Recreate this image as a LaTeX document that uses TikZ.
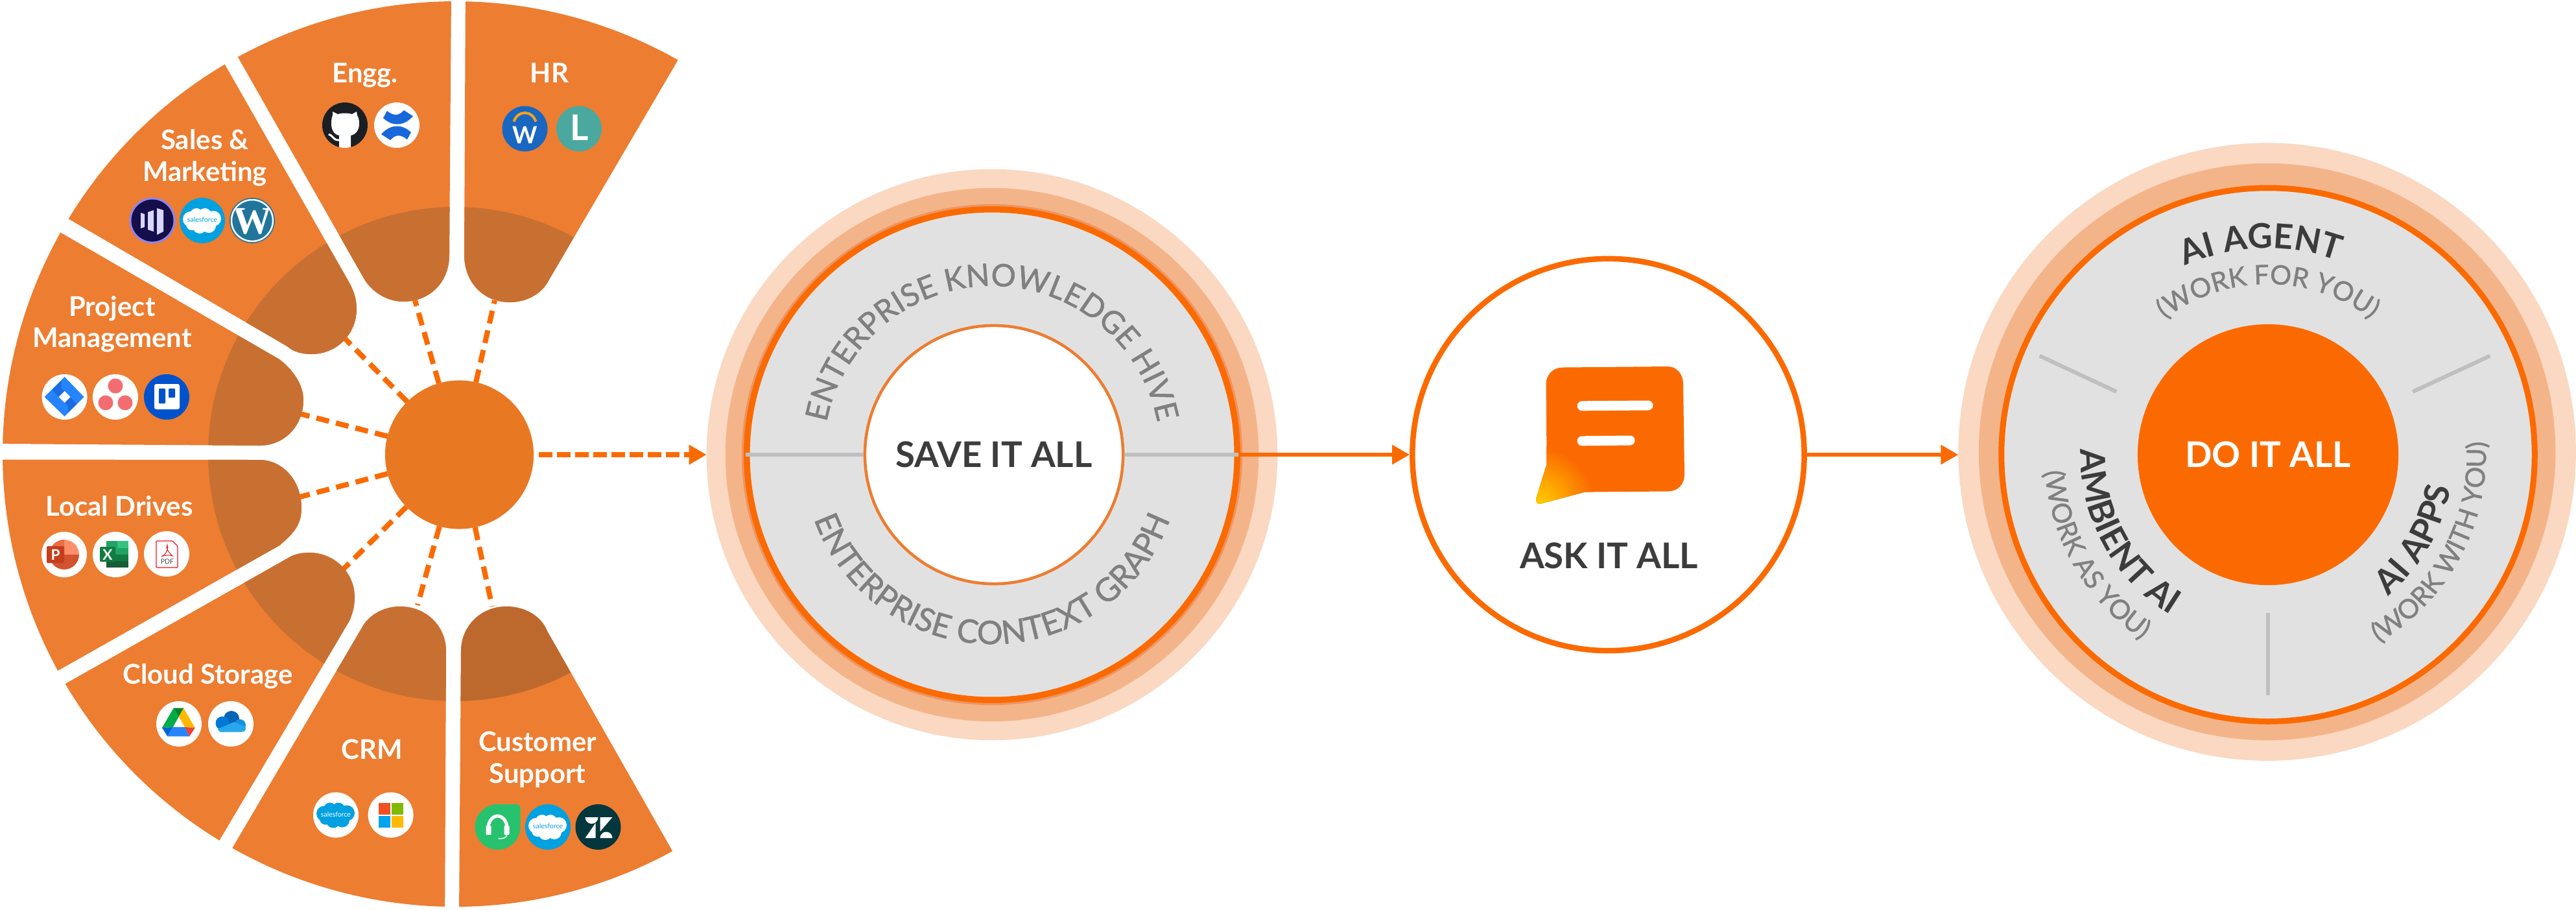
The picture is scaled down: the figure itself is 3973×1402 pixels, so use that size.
\documentclass[tikz,border=0pt]{standalone}
\usepackage{fontspec}
\setmainfont{Lato}
\newfontfamily\wpserif{Liberation Serif}
\newfontfamily\latofat[FakeBold=1.2]{Lato}
\usetikzlibrary{arrows.meta,decorations.text,calc}
\definecolor{wedgecol}{HTML}{ED7D31}
\definecolor{darka}{HTML}{C87032}
\definecolor{darkb}{HTML}{BD692D}
\definecolor{hubcol}{HTML}{E97823}
\definecolor{flow}{HTML}{FB6A00}
\definecolor{tailyellow}{HTML}{FFD200}
\definecolor{haloA}{HTML}{FAD8C1}
\definecolor{haloB}{HTML}{F4B48A}
\definecolor{haloC}{HTML}{ED9563}
\definecolor{panel}{HTML}{E1E1E1}
\definecolor{divider}{HTML}{BFBFBF}
\definecolor{ink}{HTML}{3C3C3C}
\definecolor{soft}{HTML}{808080}
\definecolor{sfblue}{HTML}{00A1E0}
\definecolor{jirablue}{HTML}{2684FF}
\definecolor{jiradark}{HTML}{1C6BE0}
\definecolor{trello}{HTML}{0052CC}
\definecolor{confl}{HTML}{1868DB}
\definecolor{wdblue}{HTML}{1967C0}
\definecolor{wdorange}{HTML}{F9A11B}
\definecolor{lattice}{HTML}{4AA89F}
\definecolor{ghdark}{HTML}{1B1F23}
\definecolor{mknavy}{HTML}{140F4B}
\definecolor{mkring}{HTML}{8F84F0}
\definecolor{mkbar}{HTML}{DAD6FF}
\definecolor{wpblue}{HTML}{21759B}
\definecolor{asana}{HTML}{F36D70}
\definecolor{greenhead}{HTML}{27C26E}
\definecolor{zen}{HTML}{03363D}
\definecolor{pptA}{HTML}{FF8F6B}
\definecolor{pptB}{HTML}{D35230}
\definecolor{pptC}{HTML}{ED6C47}
\definecolor{pptD}{HTML}{C43E1C}
\definecolor{xlA}{HTML}{21A366}
\definecolor{xlB}{HTML}{33C481}
\definecolor{xlC}{HTML}{107C41}
\definecolor{xlD}{HTML}{185C37}
\definecolor{gdA}{HTML}{00832D}
\definecolor{gdB}{HTML}{00AC47}
\definecolor{gdC}{HTML}{FFBA00}
\definecolor{gdD}{HTML}{0066DA}
\definecolor{gdE}{HTML}{2684FC}
\definecolor{gdF}{HTML}{EA4335}
\definecolor{odA}{HTML}{0364B8}
\definecolor{odB}{HTML}{0078D4}
\definecolor{odC}{HTML}{1490DF}
\definecolor{odD}{HTML}{28A8EA}
\definecolor{msA}{HTML}{F25022}
\definecolor{msB}{HTML}{7FBA00}
\definecolor{msC}{HTML}{00A4EF}
\definecolor{msD}{HTML}{FFB900}
\definecolor{pdfred}{HTML}{F0141E}
\newcommand\fwedge{\fontsize{11.9pt}{13pt}\bfseries\selectfont}
\newcommand\fringtop{\fontsize{13.6pt}{16pt}\latofat\selectfont}
\newcommand\fringlow{\fontsize{14.2pt}{17pt}\latofat\selectfont}
\newcommand\fagent{\fontsize{15pt}{18pt}\bfseries\selectfont}
\newcommand\fwork{\fontsize{11.7pt}{14pt}\latofat\selectfont}
\newcommand\fcentre{\fontsize{15.5pt}{19pt}\bfseries\selectfont}
\newcommand\ftiny{\fontsize{3pt}{3.2pt}\selectfont}
% one sector of the wheel: its outline, and the darker inner disc clipped to it
\newcommand\sector[2]{\fill[wedgecol] #1;\begin{scope}\clip #1;\fill[#2] (wheel) circle[radius=381];\end{scope}}
% text round an arc: centre, radius, start, end, font, colour, text
\newcommand\arctext[7]{\path[decorate,decoration={text along path,text color=#6,text align=center,text={|#5|#7}}] (#1) ++(#3:#2) arc[start angle=#3,end angle=#4,radius=#2];}
\newcommand\sfshape{(-18,-2) circle[radius=12] (-9,-9) circle[radius=10] (4,-9) circle[radius=10] (17,-3) circle[radius=12] (10,8) circle[radius=11] (-4,9) circle[radius=11] (-16,6) circle[radius=9]}
\tikzset{
  disc/.style={circle,inner sep=0pt,outer sep=0pt},
  spoke/.style={draw=flow,line width=.08cm,dash pattern=on .2cm off .11cm},
  flowline/.style={draw=flow,line width=.06cm,-{Triangle[length=.27cm,width=.29cm]}},
  dividerline/.style={draw=divider,line width=.06cm},
  sectorlabel/.style={anchor=base,text=white,inner sep=0pt,font=\fwedge},
  ghub/.pic={\fill[ghdark] (0,0) circle[radius=35];
    \begin{scope}\clip (0,0) circle[radius=35];
    \fill[white] (-21,-2) .. controls (-21,-9) and (-20,-13) .. (-19,-15) -- (-19,-21) -- (-11,-17) .. controls (-5,-19) and (5,-19) .. (11,-17) -- (18,-21) -- (19,-15) .. controls (21,-12) and (22,-8) .. (22,-2) .. controls (22,10) and (14,15) .. (9,16) -- (9,36) -- (-9,36) -- (-9,16) .. controls (-14,15) and (-21,10) .. (-21,-2) -- cycle;
    \draw[white,line width=.03cm] (-25,14) .. controls (-19,15) and (-18,24) .. (-9,23);
    \end{scope}},
  conf/.pic={\fill[white] (0,0) circle[radius=35];
    \fill[confl] (-21,-11) -- (-15,-22) .. controls (-6,-15) and (2,-13) .. (11,-23) -- (25,-14) .. controls (13,0) and (-5,4) .. (-21,-11) -- cycle;
    \fill[confl] (22,11) -- (16,22) .. controls (7,15) and (-1,13) .. (-10,23) -- (-24,14) .. controls (-12,0) and (6,-4) .. (22,11) -- cycle;},
  wday/.pic={\fill[wdblue] (0,0) circle[radius=35];
    \draw[wdorange,line width=.04cm] (-17,-11) .. controls (-11,-29) and (11,-29) .. (17,-11);
    \node[anchor=base,inner sep=0pt,text=white,font=\fontsize{10.4pt}{12pt}\bfseries\selectfont] (-w) at (0,23) {W};},
  latt/.pic={\fill[lattice] (0,0) circle[radius=35];
    \node[anchor=base,inner sep=0pt,text=white,font=\fontsize{15.5pt}{18pt}\bfseries\selectfont] (-l) at (1,18) {L};},
  mkto/.pic={\fill[mknavy] (0,0) circle[radius=34];\draw[mkring,line width=.03cm] (0,0) circle[radius=34];
    \fill[mkbar] (-18,-12) -- (-12,-10) -- (-12,10) -- (-18,12) -- cycle (-7,-13) -- (2,-16) -- (2,17) -- (-7,14) -- cycle (7,-19) -- (17,-16) -- (17,17) -- (7,22) -- cycle;},
  sfa/.pic={\fill[sfblue] (0,0) circle[radius=35];\fill[white] \sfshape;
    \node[inner sep=0pt,text=sfblue,font=\ftiny] (-t) at (0,-1) {salesforce};},
  sfb/.pic={\fill[white] (0,0) circle[radius=35];\fill[sfblue] \sfshape;
    \node[inner sep=0pt,text=white,font=\ftiny] (-t) at (0,-1) {salesforce};},
  wpress/.pic={\fill[wpblue] (0,0) circle[radius=35];\draw[white,line width=.025cm] (0,0) circle[radius=32];
    \begin{scope}\clip (0,0) circle[radius=30.5];
    \node[inner sep=0pt,text=white,font=\fontsize{17pt}{18pt}\wpserif\bfseries\selectfont] (-w) at (0,1) {W};
    \end{scope}},
  jira/.pic={\fill[white] (0,0) circle[radius=35];
    \fill[jirablue] (0,-31) -- (30,0) -- (0,30) -- (-31,0) -- cycle;
    \fill[jiradark] (-5,-25) -- (-5,-13) -- (0,-9) -- (-9,0) -- (-19,-11) -- cycle (5,24) -- (5,13) -- (0,9) -- (9,0) -- (19,11) -- cycle;
    \fill[white] (0,-9) -- (9,0) -- (0,9) -- (-9,0) -- cycle;},
  asanadots/.pic={\fill[white] (0,0) circle[radius=35];
    \fill[asana] (0,-17) circle[radius=11.5] (-15,9) circle[radius=11.5] (15,9) circle[radius=11.5];},
  trellobox/.pic={\fill[trello] (0,0) circle[radius=35];
    \fill[white,rounded corners=.03cm] (-19,-20) rectangle (20,19);
    \fill[trello,rounded corners=.01cm] (-12,-13) rectangle (-2,10) (3,-13) rectangle (13,1);},
  ppt/.pic={\fill[white] (0,0) circle[radius=35];
    \fill[pptB] (0,0) ++(0:23) arc[start angle=0,end angle=180,radius=23] -- cycle;
    \fill[pptA] (0,0) -- (0,-23) arc[start angle=270,end angle=360,radius=23] -- cycle;
    \fill[pptC] (0,0) -- (-23,0) arc[start angle=180,end angle=270,radius=23] -- cycle;
    \fill[pptD,rounded corners=.015cm] (-27,-13) rectangle (0,13);
    \node[inner sep=0pt,text=white,font=\fontsize{6.4pt}{7pt}\bfseries\selectfont] (-p) at (-13.5,0) {P};},
  xls/.pic={\fill[white] (0,0) circle[radius=35];
    \fill[xlA] (-14,-21) rectangle (3,-10);
    \fill[xlB] (3,-21) rectangle (20,-10);
    \fill[xlA] (-14,-10) rectangle (20,0);
    \fill[xlC] (-14,0) rectangle (20,10);
    \fill[xlD] (-14,10) rectangle (20,20);
    \fill[xlC,rounded corners=.015cm] (-24,-12) rectangle (0,11);
    \node[inner sep=0pt,text=white,font=\fontsize{6.4pt}{7pt}\bfseries\selectfont] (-x) at (-12,0) {X};},
  pdfdoc/.pic={\fill[white] (0,0) circle[radius=35];
    \draw[pdfred,line width=.013cm,fill=white,rounded corners=.01cm] (-16,-20) -- (9,-20) -- (17,-12) -- (17,21) -- (-16,21) -- cycle;
    \draw[pdfred,line width=.01cm] (-8,4) .. controls (0,0) and (3,-8) .. (1,-14) .. controls (-2,-10) and (3,-2) .. (9,3) .. controls (4,1) and (-4,2) .. (-8,4);
    \node[inner sep=0pt,text=black!70,font=\fontsize{3pt}{4pt}\selectfont] (-t) at (1,12) {PDF};},
  gdrive/.pic={\fill[white] (0,0) circle[radius=35];
    \fill[gdA] (-8.3,-24.3) -- (7.3,-24.3) -- (-.3,-11) -- cycle;
    \fill[gdB] (-8.3,-24.3) -- (-.3,-11) -- (-9.3,5) -- (-26,6) -- cycle;
    \fill[gdC] (7.3,-24.3) -- (24.7,6) -- (9,5) -- (-.3,-11) -- cycle;
    \fill[gdD] (-26,6) -- (-9.3,5) -- (-17.7,19.3) -- cycle;
    \fill[gdE] (-9.3,5) -- (9,5) -- (16.3,19.3) -- (-17.7,19.3) -- cycle;
    \fill[gdF] (9,5) -- (24.7,6) -- (16.3,19.3) -- cycle;},
  odrive/.pic={\fill[white] (0,0) circle[radius=35];
    \fill[odA] (1,-8) circle[radius=12];
    \fill[odB] (-13,-1) circle[radius=10.5];
    \fill[odC] (14,2) circle[radius=9];
    \fill[odD] (-20,8) -- (5,-3) -- (23,5) .. controls (24,10) and (20,12.5) .. (17,12.5) -- (-16,12.5) .. controls (-18,12.5) and (-19,10) .. (-20,8) -- cycle;},
  winlogo/.pic={\fill[white] (0,0) circle[radius=35];
    \fill[msA] (-19,-19) rectangle (-1,-1);
    \fill[msB] (1,-19) rectangle (19,-1);
    \fill[msC] (-19,1) rectangle (-1,19);
    \fill[msD] (1,1) rectangle (19,19);},
  headset/.pic={\fill[greenhead] (0,0) circle[radius=35];\fill[greenhead,rounded corners=.05cm] (-1,-35) rectangle (35,1);
    \draw[white,line width=.05cm] (-15,4) arc[start angle=180,end angle=360,x radius=15,y radius=21];
    \fill[white,rounded corners=.01cm] (-18,-2) rectangle (-10,12) (10,-2) rectangle (18,12);
    \draw[white,line width=.015cm] (14,12) .. controls (14,17) and (8,18) .. (1,18);},
  zendesk/.pic={\fill[zen] (0,0) circle[radius=35];
    \fill[white] (-20,-15) -- (0,-15) arc[start angle=0,end angle=180,radius=10] -- cycle;
    \fill[white] (3,-15) -- (22,-15) -- (3,7) -- cycle (-4,-6) -- (-4,17) -- (-20,17) -- cycle;
    \fill[white] (3,17) arc[start angle=180,end angle=360,radius=9.5] -- cycle;},
}
\begin{document}
\begin{tikzpicture}[x=.01cm,y=-.01cm]
\useasboundingbox (0,0) rectangle (3973,1402);
\coordinate (wheel) at (702,700);

% hub and spokes
\node[disc,fill=hubcol,minimum size=2.29cm] (hub) at (708.5,701) {};
\coordinate (tipHR) at (763,463);
\coordinate (tipEN) at (640,463);
\coordinate (tipSM) at (531,521);
\coordinate (tipPM) at (463,638);
\coordinate (tipLD) at (463,766);
\coordinate (tipCS) at (530,877);
\coordinate (tipCR) at (644,933);
\coordinate (tipCU) at (759,935);
\foreach \t in {HR,EN,SM,PM,LD,CS,CR,CU} \path[spoke] (hub) -- (tip\t);

% sectors of the wheel
\sector{(wheel) ++(-88.7:698) arc[start angle=-88.7,end angle=-60.5,radius=698] -- (847,431) .. controls (835,455) and (810,466) .. (786,466) .. controls (745,466) and (716,435) .. (716,393) -- cycle}{darka}
\sector{(wheel) ++(-90.5:698) arc[start angle=-90.5,end angle=-118.7,radius=698] -- (561,429) .. controls (573,450) and (597,465) .. (622,465) .. controls (663,465) and (693,435) .. (693,393) -- cycle}{darka}
\sector{(wheel) ++(-120.6:698) arc[start angle=-120.6,end angle=-148.7,radius=698] -- (443,534) .. controls (453,543) and (467,546) .. (480,546) .. controls (520,546) and (550,515) .. (550,476) .. controls (550,462) and (546,450) .. (540,438) -- cycle}{darka}
\sector{(wheel) ++(-150.7:698) arc[start angle=-150.7,end angle=-178.7,radius=698] -- (400,687) .. controls (440,687) and (468,655) .. (468,617) .. controls (468,593) and (452,570) .. (431,554) -- cycle}{darka}
\sector{(wheel) ++(179.3:698) arc[start angle=179.3,end angle=151.4,radius=698] -- (431,841) .. controls (452,823) and (465,810) .. (465,783) .. controls (465,742) and (437,709) .. (400,709) -- cycle}{darka}
\sector{(wheel) ++(149.5:698) arc[start angle=149.5,end angle=121.4,radius=698] -- (539,957) .. controls (544,945) and (547,935) .. (547,921) .. controls (547,882) and (515,852) .. (477,852) .. controls (463,852) and (452,855) .. (443,861) -- cycle}{darka}
\sector{(wheel) ++(119.5:698) arc[start angle=119.5,end angle=91.3,radius=698] -- (688,1004) .. controls (688,965) and (657,935) .. (617,935) .. controls (590,935) and (567,950) .. (558,968) -- cycle}{darka}
\sector{(wheel) ++(89.5:698) arc[start angle=89.5,end angle=61.3,radius=698] -- (844,973) .. controls (835,950) and (810,935) .. (781,935) .. controls (742,935) and (711,965) .. (711,1004) -- cycle}{darkb}

% sector labels
\node[sectorlabel] (lEngg) at (563,127) {Engg.};
\node[sectorlabel] (lHR) at (847.5,127) {HR};
\node[sectorlabel] (lSales) at (316,230) {Sales \&};
\node[sectorlabel] (lMkt) at (316,279) {Marketing};
\node[sectorlabel] (lProj) at (173,487) {Project};
\node[sectorlabel] (lMgmt) at (173,535.5) {Management};
\node[sectorlabel] (lLocal) at (184,795) {Local Drives};
\node[sectorlabel] (lCloud) at (320.5,1054.5) {Cloud Storage};
\node[sectorlabel] (lCRM) at (574,1170) {CRM};
\node[sectorlabel] (lCust) at (829,1158) {Customer};
\node[sectorlabel] (lSupp) at (829,1207) {Support};

% logos
\pic (iGh) at (532,193) {ghub};
\pic (iConf) at (612,193) {conf};
\pic (iWd) at (809.5,198.5) {wday};
\pic (iLat) at (893,198.5) {latt};
\pic (iMk) at (235,340) {mkto};
\pic (iSf) at (312,340) {sfa};
\pic (iWp) at (389,340) {wpress};
\pic (iJira) at (99.6,612) {jira};
\pic (iAsana) at (178,612) {asanadots};
\pic (iTrello) at (257,612) {trellobox};
\pic (iPpt) at (99,855) {ppt};
\pic (iXls) at (178,855) {xls};
\pic (iPdf) at (257,854) {pdfdoc};
\pic (iDrive) at (276,1116) {gdrive};
\pic (iOne) at (356,1116) {odrive};
\pic (iSfC) at (518,1256.5) {sfb};
\pic (iWin) at (602.6,1256.5) {winlogo};
\pic (iHead) at (767.5,1275) {headset};
\pic (iSfU) at (845,1275) {sfa};
\pic (iZen) at (922.5,1275) {zendesk};

% SAVE IT ALL
\node[disc,fill=haloA,minimum size=8.8cm] (saveHalo) at (1530,701) {};
\node[disc,fill=haloB,minimum size=8.22cm] (saveMid) at (1530,701) {};
\node[disc,fill=haloC,minimum size=7.72cm] (saveThin) at (1530,701) {};
\node[disc,fill=panel,draw=flow,line width=.095cm,minimum size=7.56cm,outer sep=.0475cm] (saveRing) at (1530,701) {};
\node[disc,fill=white,draw=wedgecol,line width=.045cm,minimum size=3.98cm,outer sep=.0225cm,font=\fcentre,text=ink] (save) at (1533,701) {SAVE IT ALL};
\draw[dividerline] ([xshift=.03cm]saveRing.west) -- (save.west);
\draw[dividerline] (save.east) -- ([xshift=-.03cm]saveRing.east);
\arctext{saveRing.center}{260}{190}{350}{\fringtop}{soft}{ENTERPRISE KNOWLEDGE HIVE}
\arctext{saveRing.center}{292}{170}{10}{\fringlow}{soft}{ENTERPRISE CONTEXT GRAPH}

% ASK IT ALL
\node[disc,fill=white,draw=flow,line width=.085cm,minimum size=6.04cm,outer sep=.0425cm] (ask) at (2480.5,701) {};
\begin{scope}
\clip (2410,566.5) -- (2572,565) .. controls (2586,565) and (2596,577) .. (2596,592) -- (2598,732) .. controls (2598,746) and (2588,757.5) .. (2573,757.5) -- (2444,758.5) -- (2376,776.5) .. controls (2371,777.5) and (2368,773) .. (2369.5,768) -- (2385.6,716) -- (2384.5,592) .. controls (2384.5,577) and (2396,566.5) .. (2410,566.5) -- cycle;
\fill[flow] (2360,555) rectangle (2610,790);
\foreach \r in {90,86,...,2} {
  \pgfmathsetmacro\mixed{100*\r/90}
  \fill[flow!\mixed!tailyellow] (2372,778) circle[radius=\r];
}
\end{scope}
\draw[white,line width=.15cm,line cap=round] (2440,625.8) -- (2542,625);
\draw[white,line width=.15cm,line cap=round] (2440,679.8) -- (2514,679);
\node[anchor=base,inner sep=0pt,text=ink,font=\fcentre] (askLabel) at (2481.5,876) {ASK IT ALL};

% DO IT ALL
\node[disc,fill=haloA,minimum size=9.52cm] (doHalo) at (3496.6,696.6) {};
\node[disc,fill=haloB,minimum size=8.89cm] (doMid) at (3496.6,696.6) {};
\node[disc,fill=panel,draw=flow,line width=.09cm,minimum size=8.22cm,outer sep=.045cm] (doRing) at (3498,701) {};
\node[disc,fill=flow,minimum size=4.02cm,font=\fcentre,text=white] (do) at (3498,701) {DO IT ALL};
\coordinate (dvA) at (3145.7,548.6);
\coordinate (dvB) at (3264.4,604);
\coordinate (dvC) at (3840.4,548.6);
\coordinate (dvD) at (3721,604);
\coordinate (dvE) at (3498,944.5);
\coordinate (dvF) at (3498,1072);
\draw[dividerline] (dvA) -- (dvB);
\draw[dividerline] (dvC) -- (dvD);
\draw[dividerline] (dvE) -- (dvF);
\arctext{doRing.center}{318}{198}{338}{\fagent}{ink}{AI AGENT}
\arctext{doRing.center}{263}{190}{350}{\fwork}{soft}{(WORK FOR YOU)}
\arctext{doRing.center}{286}{100}{-40}{\fagent}{ink}{AI APPS}
\arctext{doRing.center}{336}{98}{-42}{\fwork}{soft}{(WORK WITH YOU)}
\arctext{doRing.center}{289}{221.5}{81.5}{\fagent}{ink}{AMBIENT AI}
\arctext{doRing.center}{345}{220}{80}{\fwork}{soft}{(WORK AS YOU)}

% flow arrows
\draw[flowline,line width=.08cm,dash pattern=on .21cm off .07cm,shorten <=.08cm] (hub.east) -- (saveHalo.west);
\draw[flowline] (saveRing.east) -- (ask.west);
\draw[flowline] (ask.east) -- (doHalo.west |- ask.east);
\end{tikzpicture}
\end{document}
